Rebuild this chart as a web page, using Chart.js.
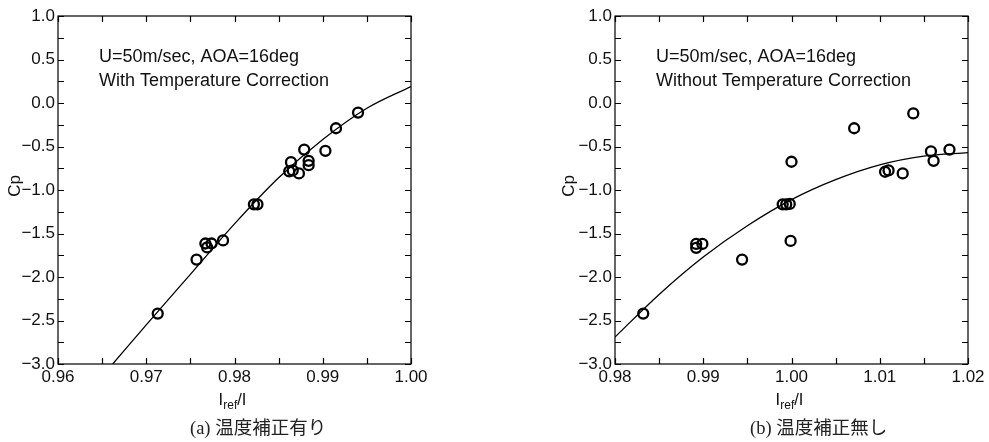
<!DOCTYPE html>
<html>
<head>
<meta charset="utf-8">
<script src="https://cdn.jsdelivr.net/npm/chart.js@4.4.0/dist/chart.umd.min.js"></script>
<style>
html, body { margin: 0; padding: 0; background: #fff; }
#wrap { position: relative; width: 989px; height: 442px; }
canvas { position: absolute; top: 0; }
</style>
</head>
<body>
<div id="wrap">
    <canvas id="chartA" width="494" height="442" style="left:0px"></canvas>
    <canvas id="chartB" width="495" height="442" style="left:494px"></canvas>
</div>
<script>
// (a) with temperature correction - measured points
var withCorrX  = [0.9940, 0.9915, 0.9879, 0.9903, 0.9864, 0.9884, 0.9884, 0.9862, 0.9866, 0.9873, 0.9822, 0.9826, 0.9787, 0.9767, 0.9774, 0.9769, 0.9757, 0.9713];
var withCorrCp = [-0.11, -0.29, -0.535, -0.55, -0.68, -0.665, -0.715, -0.785, -0.775, -0.81, -1.165, -1.165, -1.58, -1.615, -1.615, -1.66, -1.80, -2.42];
// (a) fitted curve
var withFitX  = [0.9662, 0.970, 0.975, 0.980, 0.985, 0.990, 0.995, 1.000];
var withFitCp = [-3.00, -2.55, -1.97, -1.39, -0.86, -0.42, -0.06, 0.19];

// (b) without temperature correction - measured points
var noCorrX  = [1.0138, 1.0071, 1.0000, 1.0158, 1.0179, 1.0161, 1.0106, 1.0110, 1.0126, 0.9990, 0.9994, 0.9998, 0.9999, 0.9892, 0.9899, 0.9892, 0.9944, 0.9832];
var noCorrCp = [-0.12, -0.29, -0.675, -0.555, -0.535, -0.665, -0.79, -0.775, -0.81, -1.165, -1.165, -1.16, -1.585, -1.62, -1.62, -1.665, -1.80, -2.42];
// (b) fitted curve
var noFitX  = [0.980, 0.985, 0.990, 0.995, 1.000, 1.005, 1.010, 1.015, 1.020];
var noFitCp = [-2.69, -2.20, -1.77, -1.41, -1.11, -0.88, -0.71, -0.61, -0.57];

// tick labels
var xTicksA = [0.96, 0.97, 0.98, 0.99, 1.00];
var xTicksB = [0.98, 0.99, 1.00, 1.01, 1.02];
var yTicks  = [-3.0, -2.5, -2.0, -1.5, -1.0, -0.5, 0.0, 0.5, 1.0];

var noteLine1 = "U=50m/sec, AOA=16deg";
var noteA = "With Temperature Correction";
var noteB = "Without Temperature Correction";
var captionA = "(a) 温度補正有り";
var captionB = "(b) 温度補正無し";

var sansFont = '"Liberation Sans", Arial, sans-serif';

function toPoints(xs, ys){
    return xs.map(function(x, i){ return {x: x, y: ys[i]}; });
}

function withMinor(ticks){
    // major ticks plus the midpoints between them
    var out = [];
    for (var i = 0; i < ticks.length; i++) {
        out.push(ticks[i]);
        if (i < ticks.length - 1) out.push((ticks[i] + ticks[i + 1]) / 2);
    }
    return out;
}

var decorPlugin = {
    id: 'decor',
    afterDraw: function(chart, args, opts){
        var ctx = chart.ctx;
        var a = chart.chartArea;
        var xs = chart.scales.x, ys = chart.scales.y;
        ctx.save();
        ctx.strokeStyle = '#000';
        ctx.lineWidth = 1.2;
        ctx.strokeRect(a.left, a.top, a.right - a.left, a.bottom - a.top);

        // inward ticks on all four sides
        var tl = 6;
        ctx.beginPath();
        withMinor(opts.xTicks).forEach(function(v){
            var px = Math.round(xs.getPixelForValue(v)) + 0.5;
            ctx.moveTo(px, a.bottom); ctx.lineTo(px, a.bottom - tl);
            ctx.moveTo(px, a.top); ctx.lineTo(px, a.top + tl);
        });
        withMinor(yTicks).forEach(function(v){
            var py = Math.round(ys.getPixelForValue(v)) + 0.5;
            ctx.moveTo(a.left, py); ctx.lineTo(a.left + tl, py);
            ctx.moveTo(a.right, py); ctx.lineTo(a.right - tl, py);
        });
        ctx.stroke();

        // note text
        ctx.fillStyle = '#111';
        ctx.font = '18px ' + sansFont;
        ctx.textAlign = 'left';
        ctx.textBaseline = 'alphabetic';
        ctx.fillText(noteLine1, a.left + 41, 62);
        ctx.fillText(opts.note, a.left + 41, 85.5);

        // x axis title  I_ref / I
        var big = '16.5px ' + sansFont, small = '12px ' + sansFont;
        ctx.font = big;
        var wI = ctx.measureText('I').width, wSlash = ctx.measureText('/I').width;
        ctx.font = small;
        var wRef = ctx.measureText('ref').width;
        var cx = (a.left + a.right) / 2 - 2;
        var sx = cx - (wI + wRef + wSlash) / 2;
        ctx.font = big;
        ctx.fillText('I', sx, 405);
        ctx.font = small;
        ctx.fillText('ref', sx + wI, 408.5);
        ctx.font = big;
        ctx.fillText('/I', sx + wI + wRef, 405);

        // y axis title Cp
        ctx.save();
        ctx.translate(opts.cpX, 186);
        ctx.rotate(-Math.PI / 2);
        ctx.textAlign = 'center';
        ctx.textBaseline = 'middle';
        ctx.font = '17px ' + sansFont;
        ctx.fillText('Cp', 0, 0);
        ctx.restore();

        // caption
        ctx.fillStyle = '#222';
        ctx.font = '18.5px "Liberation Serif", "Noto Sans CJK JP", serif';
        ctx.textAlign = 'left';
        ctx.fillText(opts.caption, opts.captionX, 434);
        ctx.restore();
    }
};

function minusFmt(v, digits){
    var s = Math.abs(v) < 1e-9 ? (0).toFixed(digits) : v.toFixed(digits);
    return s.replace('-', '\u2212');
}

function makeChart(id, pts, fit, xMin, xMax, xTicks, pad, extra){
    var ctx = document.getElementById(id).getContext('2d');
    return new Chart(ctx, {
        type: 'scatter',
        data: {
            datasets: [
                {
                    label: 'fit',
                    data: fit,
                    showLine: true,
                    cubicInterpolationMode: 'monotone',
                    borderColor: '#000',
                    borderWidth: 1.3,
                    pointRadius: 0,
                    fill: false
                },
                {
                    label: 'Cp',
                    data: pts,
                    showLine: false,
                    pointStyle: 'circle',
                    pointRadius: 5,
                    borderWidth: 2.3,
                    borderColor: '#000',
                    backgroundColor: 'rgba(0,0,0,0)'
                }
            ]
        },
        options: {
            responsive: false,
            animation: false,
            layout: { padding: pad },
            plugins: {
                legend: { display: false },
                tooltip: { enabled: false },
                decor: extra
            },
            scales: {
                x: {
                    type: 'linear',
                    min: xMin,
                    max: xMax,
                    grid: { display: false, drawTicks: false },
                    border: { display: false },
                    afterBuildTicks: function(s){ s.ticks = xTicks.map(function(v){ return {value: v}; }); },
                    afterFit: function(s){ s.height = 78; },
                    ticks: {
                        padding: 3,
                        color: '#111',
                        maxRotation: 0,
                        autoSkip: false,
                        font: { family: sansFont, size: 17 },
                        callback: function(v){ return minusFmt(v, 2); }
                    }
                },
                y: {
                    type: 'linear',
                    min: -3,
                    max: 1,
                    grid: { display: false, drawTicks: false },
                    border: { display: false },
                    afterBuildTicks: function(s){ s.ticks = yTicks.map(function(v){ return {value: v}; }); },
                    afterFit: function(s){ s.width = 58; },
                    ticks: {
                        padding: 3,
                        color: '#111',
                        autoSkip: false,
                        font: { family: sansFont, size: 17 },
                        callback: function(v){ return minusFmt(v, 1); }
                    }
                }
            }
        },
        plugins: [decorPlugin]
    });
}

makeChart('chartA', toPoints(withCorrX, withCorrCp), toPoints(withFitX, withFitCp), 0.96, 1.00, xTicksA,
    {left: 0, right: 83, top: 16, bottom: 0},
    {xTicks: xTicksA, note: noteA, caption: captionA, captionX: 190, cpX: 15});

makeChart('chartB', toPoints(noCorrX, noCorrCp), toPoints(noFitX, noFitCp), 0.98, 1.02, xTicksB,
    {left: 63, right: 21, top: 16, bottom: 0},
    {xTicks: xTicksB, note: noteB, caption: captionB, captionX: 256, cpX: 75});
</script>
</body>
</html>
